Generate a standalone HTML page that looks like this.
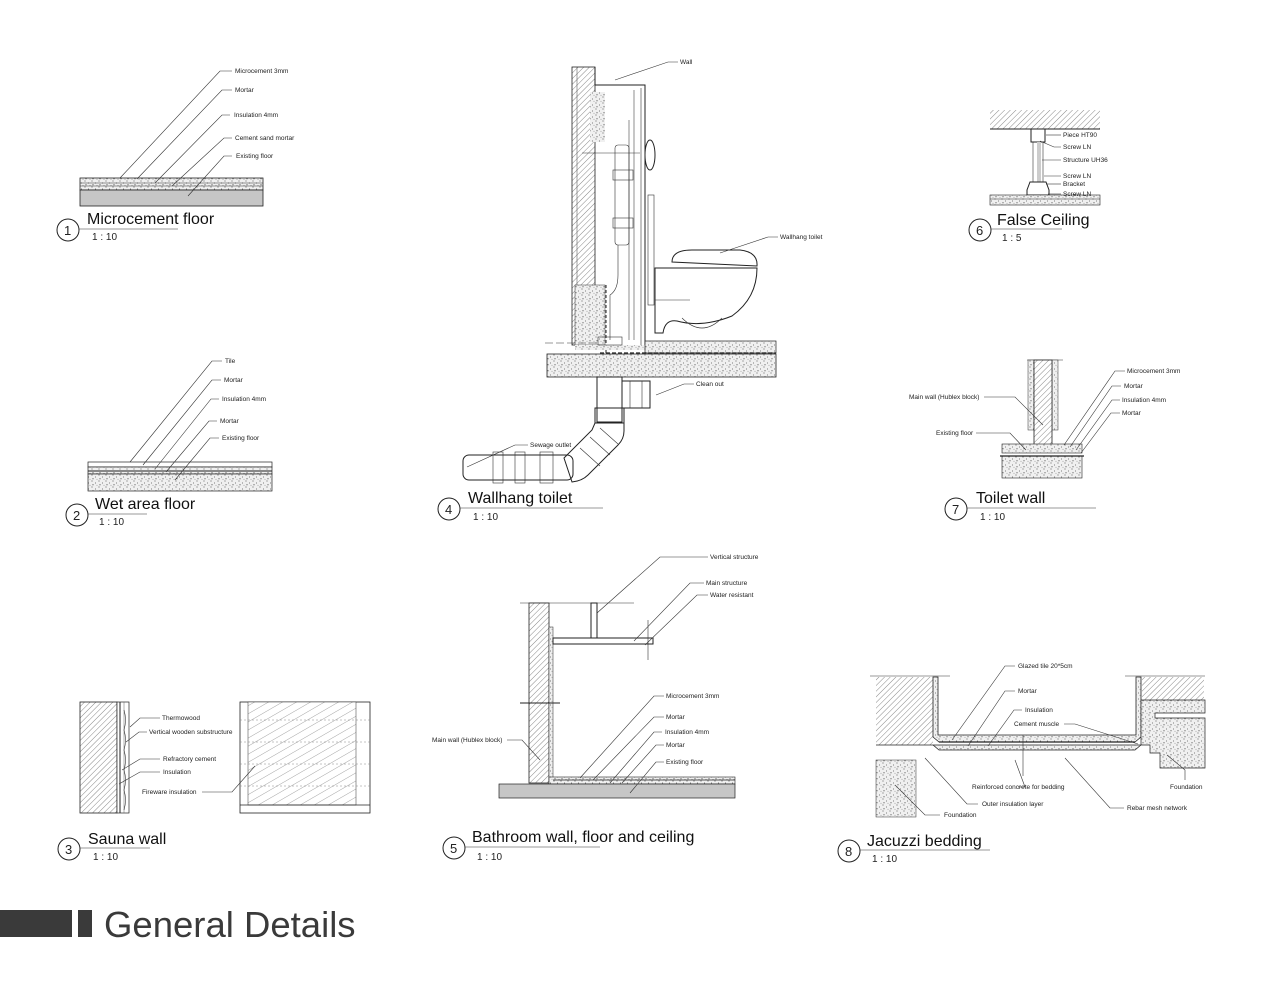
<!DOCTYPE html>
<html><head><meta charset="utf-8"><style>
html,body{margin:0;padding:0;background:#fff;}
svg{display:block;}
text{font-family:"Liberation Sans",sans-serif;fill:#222;}
.s{font-size:6.5px;}
.t{font-size:16px;fill:#111;}
.sc{font-size:10px;}
.l{fill:none;stroke:#333;stroke-width:0.6;}
.k{fill:none;stroke:#222;stroke-width:1;}
</style></head><body>
<svg width="1267" height="1000" viewBox="0 0 1267 1000" xmlns="http://www.w3.org/2000/svg">
<defs>
<pattern id="st" width="7" height="6" patternUnits="userSpaceOnUse">
<rect width="7" height="6" fill="#f0f0f0"/>
<circle cx="1" cy="1" r="0.55" fill="#444"/><circle cx="4.5" cy="3" r="0.5" fill="#555"/><circle cx="2" cy="4.8" r="0.55" fill="#333"/><circle cx="6" cy="5.3" r="0.4" fill="#666"/>
</pattern>
<pattern id="ht" width="4" height="4" patternUnits="userSpaceOnUse" patternTransform="rotate(45)">
<rect width="4" height="4" fill="#fff"/><line x1="0" y1="0" x2="0" y2="4" stroke="#555" stroke-width="0.7"/>
</pattern>
<pattern id="ht2" width="7" height="7" patternUnits="userSpaceOnUse" patternTransform="rotate(60)">
<rect width="7" height="7" fill="#fff"/><line x1="0" y1="0" x2="0" y2="7" stroke="#666" stroke-width="0.6"/>
</pattern>
</defs>

<!-- ===== 1 Microcement floor ===== -->
<rect x="80" y="178" width="183" height="12" fill="url(#st)" stroke="#222" stroke-width="0.8"/>
<line x1="80" y1="183" x2="263" y2="183" stroke="#333" stroke-width="0.5"/>
<line x1="80" y1="186" x2="263" y2="186" stroke="#333" stroke-width="0.5"/>
<rect x="80" y="190" width="183" height="16" fill="#c6c6c6" stroke="#222" stroke-width="0.8"/>
<polyline class="l" points="232,71 220,71 120,178"/><text class="s" x="235" y="73">Microcement 3mm</text>
<polyline class="l" points="232,90 222,90 137,179"/><text class="s" x="235" y="92">Mortar</text>
<polyline class="l" points="230,115 222,115 155,183"/><text class="s" x="234" y="117">Insulation 4mm</text>
<polyline class="l" points="232,138 224,138 172,186"/><text class="s" x="235" y="140">Cement sand mortar</text>
<polyline class="l" points="232,156 224,156 188,196"/><text class="s" x="236" y="158">Existing floor</text>
<circle cx="68" cy="230" r="11" class="k"/><text x="64" y="235" font-size="13">1</text>
<line x1="79" y1="229" x2="178" y2="229" class="l"/>
<text class="t" x="87" y="224">Microcement floor</text><text class="sc" x="92" y="240">1 : 10</text>

<!-- ===== 2 Wet area floor ===== -->
<rect x="88" y="462" width="184" height="5" fill="#fff" stroke="#222" stroke-width="0.7"/>
<rect x="88" y="467" width="184" height="7" fill="url(#st)" stroke="#222" stroke-width="0.7"/>
<line x1="88" y1="471" x2="272" y2="471" stroke="#222" stroke-width="1"/>
<rect x="88" y="474" width="184" height="17" fill="url(#st)" stroke="#222" stroke-width="0.7"/>
<polyline class="l" points="222,361 212,361 130,462"/><text class="s" x="225" y="363">Tile</text>
<polyline class="l" points="221,380 212,380 143,465"/><text class="s" x="224" y="382">Mortar</text>
<polyline class="l" points="219,399 211,399 155,469"/><text class="s" x="222" y="401">Insulation  4mm</text>
<polyline class="l" points="217,421 209,421 166,472"/><text class="s" x="220" y="423">Mortar</text>
<polyline class="l" points="219,438 210,438 175,480"/><text class="s" x="222" y="440">Existing floor</text>
<circle cx="77" cy="515" r="11" class="k"/><text x="73" y="520" font-size="13">2</text>
<line x1="88" y1="514" x2="147" y2="514" class="l"/>
<text class="t" x="95" y="509">Wet area floor</text><text class="sc" x="99" y="525">1 : 10</text>

<!-- ===== 3 Sauna wall ===== -->
<rect x="80" y="702" width="37" height="111" fill="url(#ht)" stroke="#222" stroke-width="0.8"/>
<rect x="117" y="702" width="12" height="111" fill="#fff" stroke="#222" stroke-width="0.7"/>
<line x1="120" y1="702" x2="120" y2="813" stroke="#222"/><line x1="124" y1="702" x2="124" y2="813" stroke="#666" stroke-width="0.5"/>
<path d="M124,710 q3,10 0,20 q3,10 0,20 q3,10 0,20 q3,10 0,20 q3,10 0,20" class="l"/>
<polyline class="l" points="160,718 140,718 130,727"/><text class="s" x="162" y="720">Thermowood</text>
<polyline class="l" points="147,732 139,732 126,742"/><text class="s" x="149" y="734">Vertical wooden substructure</text>
<polyline class="l" points="160,759 140,759 122,770"/><text class="s" x="163" y="761">Refractory cement</text>
<polyline class="l" points="160,772 140,772 119,784"/><text class="s" x="163" y="774">Insulation</text>
<rect x="240" y="702" width="130" height="111" fill="#fff" stroke="#222" stroke-width="0.8"/>
<rect x="248" y="702" width="108" height="103" fill="url(#ht2)" stroke="#333" stroke-width="0.5"/>
<line x1="240" y1="805" x2="370" y2="805" stroke="#222" stroke-width="0.7"/>
<g stroke="#888" stroke-width="0.5" stroke-dasharray="2,2"><line x1="240" y1="720" x2="370" y2="720"/><line x1="240" y1="742" x2="370" y2="742"/><line x1="240" y1="764" x2="370" y2="764"/><line x1="240" y1="786" x2="370" y2="786"/></g>
<polyline class="l" points="202,792 232,792 255,766"/><text class="s" x="142" y="794">Fireware insulation</text>
<circle cx="69" cy="849" r="11" class="k"/><text x="65" y="854" font-size="13">3</text>
<line x1="80" y1="848" x2="150" y2="848" class="l"/>
<text class="t" x="88" y="844">Sauna wall</text><text class="sc" x="93" y="860">1 : 10</text>

<!-- ===== 4 Wallhang toilet ===== -->
<rect x="572" y="67" width="23" height="278" fill="url(#ht)" stroke="#222" stroke-width="0.8"/>
<line x1="577" y1="67" x2="577" y2="345" stroke="#444" stroke-width="0.5"/>
<rect x="590" y="92" width="15" height="50" fill="url(#st)"/>
<rect x="575" y="285" width="30" height="60" fill="url(#st)" stroke="#333" stroke-width="0.5"/>
<polyline points="595,67 595,85 645,85 645,345" class="k" stroke-width="1.4"/>
<line x1="641" y1="88" x2="641" y2="345" stroke="#333" stroke-width="0.6"/>
<line x1="634" y1="90" x2="634" y2="340" stroke="#444" stroke-width="0.6"/>
<line x1="629" y1="120" x2="629" y2="340" stroke="#444" stroke-width="0.6"/>
<rect x="615" y="145" width="14" height="100" rx="3" class="l"/>
<rect x="613" y="170" width="20" height="10" class="l"/><rect x="613" y="218" width="20" height="10" class="l"/>
<path d="M618,245 v30 q0,15 -8,20 v45" class="l"/>
<line x1="582" y1="153" x2="640" y2="153" class="l"/>
<ellipse cx="650" cy="155" rx="5" ry="15" class="k"/>
<rect x="648" y="195" width="6" height="110" class="l"/>
<line x1="606" y1="285" x2="606" y2="355" stroke="#222" stroke-dasharray="3,2"/>
<rect x="575" y="345" width="70" height="5" fill="url(#st)"/>
<rect x="645" y="341" width="131" height="12" fill="url(#st)" stroke="#222" stroke-width="0.7"/>
<line x1="600" y1="353" x2="776" y2="353" stroke="#222" stroke-width="1.2" stroke-dasharray="4,2"/>
<rect x="547" y="354" width="229" height="23" fill="url(#st)" stroke="#222" stroke-width="0.8"/>
<line x1="545" y1="343" x2="600" y2="343" stroke="#333" stroke-width="0.6" stroke-dasharray="8,3"/>
<rect x="598" y="337" width="24" height="8" class="l"/>
<path d="M672,262 q0,-12 20,-12 h48 q18,2 17,16 z" fill="#fff" class="k" stroke-width="0.8"/>
<path d="M660,268 h97 q0,30 -25,48 q-30,12 -55,5 q-12,-2 -14,12 h-8 v-65 z" fill="#fff" class="k" stroke-width="0.8"/>
<path d="M682,318 q20,20 40,0" class="l"/>
<line x1="655" y1="300" x2="690" y2="300" class="l"/>
<polyline class="l" points="778,237 768,237 720,253"/><text class="s" x="780" y="239">Wallhang toilet</text>
<polyline class="l" points="678,62 668,62 615,80"/><text class="s" x="680" y="64">Wall</text>
<!-- pipes -->
<rect x="597" y="377" width="25" height="45" fill="#fff" class="k" stroke-width="0.8"/>
<rect x="622" y="381" width="28" height="27" fill="#fff" class="k" stroke-width="0.8"/>
<line x1="630" y1="381" x2="630" y2="408" class="l"/><line x1="642" y1="381" x2="642" y2="408" class="l"/>
<rect x="595" y="408" width="29" height="15" fill="#fff" class="k" stroke-width="0.8"/>
<path d="M595,423 h29 v8 q0,8 -6,14 l-30,30 q-6,6 -16,7 l-8,-24 l28,-28 z" fill="#fff" class="k" stroke-width="0.8"/>
<line x1="580" y1="448" x2="600" y2="466" class="l"/><line x1="590" y1="437" x2="610" y2="455" class="l"/><line x1="600" y1="428" x2="618" y2="444" class="l"/>
<rect x="463" y="455" width="110" height="25" rx="6" fill="#fff" class="k" stroke-width="0.8"/>
<rect x="493" y="452" width="10" height="31" fill="#fff" class="l"/><rect x="515" y="452" width="10" height="31" fill="#fff" class="l"/><rect x="540" y="452" width="13" height="31" fill="#fff" class="l"/>
<polyline class="l" points="694,384 684,384 656,395"/><text class="s" x="696" y="386">Clean out</text>
<polyline class="l" points="528,445 515,445 467,467"/><text class="s" x="530" y="447">Sewage outlet</text>
<circle cx="449" cy="509" r="11" class="k"/><text x="445" y="514" font-size="13">4</text>
<line x1="460" y1="508" x2="603" y2="508" class="l"/>
<text class="t" x="468" y="503">Wallhang toilet</text><text class="sc" x="473" y="520">1 : 10</text>

<!-- ===== 5 Bathroom wall ===== -->
<line x1="520" y1="603" x2="634" y2="603" class="l"/>
<rect x="529" y="603" width="20" height="180" fill="url(#ht)" stroke="#222" stroke-width="0.8"/>
<rect x="549" y="627" width="4" height="153" fill="url(#st)" stroke="#222" stroke-width="0.5"/>
<rect x="553" y="638" width="100" height="6" fill="#fff" class="k" stroke-width="0.7"/>
<rect x="591" y="603" width="6" height="35" fill="#fff" class="k" stroke-width="0.7"/>
<line x1="648" y1="620" x2="648" y2="660" class="l"/>
<line x1="520" y1="703" x2="560" y2="703" class="k"/>
<rect x="549" y="777" width="186" height="7" fill="url(#st)" stroke="#222" stroke-width="0.6"/>
<line x1="553" y1="780" x2="735" y2="780" stroke="#222" stroke-width="0.8"/>
<rect x="499" y="784" width="236" height="14" fill="#c6c6c6" stroke="#222" stroke-width="0.7"/>
<polyline class="l" points="708,557 660,557 597,613"/><text class="s" x="710" y="559">Vertical structure</text>
<polyline class="l" points="704,583 690,583 634,641"/><text class="s" x="706" y="585">Main structure</text>
<polyline class="l" points="708,595 697,595 645,645"/><text class="s" x="710" y="597">Water resistant</text>
<polyline class="l" points="664,696 654,696 580,778"/><text class="s" x="666" y="698">Microcement 3mm</text>
<polyline class="l" points="664,717 654,717 593,780"/><text class="s" x="666" y="719">Mortar</text>
<polyline class="l" points="662,732 654,732 610,783"/><text class="s" x="665" y="734">Insulation 4mm</text>
<polyline class="l" points="664,745 656,745 622,783"/><text class="s" x="666" y="747">Mortar</text>
<polyline class="l" points="664,762 656,762 630,793"/><text class="s" x="666" y="764">Existing floor</text>
<polyline class="l" points="507,740 522,740 540,760"/><text class="s" x="432" y="742">Main wall (Hublex block)</text>
<circle cx="454" cy="848" r="11" class="k"/><text x="450" y="853" font-size="13">5</text>
<line x1="465" y1="847" x2="600" y2="847" class="l"/>
<text class="t" x="472" y="842">Bathroom wall, floor and ceiling</text><text class="sc" x="477" y="860">1 : 10</text>

<!-- ===== 6 False Ceiling ===== -->
<rect x="990" y="110" width="110" height="19" fill="url(#ht)"/>
<line x1="990" y1="129" x2="1100" y2="129" stroke="#222"/>
<rect x="1031" y="129" width="14" height="13" fill="#fff" class="k" stroke-width="0.7"/>
<line x1="1033" y1="142" x2="1033" y2="182" class="l"/><line x1="1043" y1="142" x2="1043" y2="182" class="l"/>
<rect x="1037" y="142" width="4" height="40" fill="#ccc"/>
<path d="M1030,182 h16 l3,8 v5 h-22 v-5 z" fill="#fff" class="k" stroke-width="0.7"/>
<rect x="990" y="195" width="110" height="10" fill="url(#st)" stroke="#222" stroke-width="0.6"/>
<line x1="990" y1="199" x2="1100" y2="199" stroke="#333" stroke-width="0.5"/>
<line x1="1061" y1="135" x2="1046" y2="135" class="l"/><text class="s" x="1063" y="137">Piece HT90</text>
<polyline class="l" points="1061,147 1054,147 1040,141"/><text class="s" x="1063" y="149">Screw LN</text>
<line x1="1061" y1="160" x2="1042" y2="160" class="l"/><text class="s" x="1063" y="162">Structure UH36</text>
<line x1="1061" y1="176" x2="1044" y2="176" class="l"/><text class="s" x="1063" y="178">Screw LN</text>
<line x1="1061" y1="184" x2="1046" y2="184" class="l"/><text class="s" x="1063" y="186">Bracket</text>
<line x1="1061" y1="194" x2="1048" y2="194" class="l"/><text class="s" x="1063" y="196">Screw LN</text>
<circle cx="980" cy="230" r="11" class="k"/><text x="976" y="235" font-size="13">6</text>
<line x1="991" y1="229" x2="1062" y2="229" class="l"/>
<text class="t" x="997" y="225">False Ceiling</text><text class="sc" x="1002" y="241">1 : 5</text>

<!-- ===== 7 Toilet wall ===== -->
<line x1="1027" y1="360" x2="1063" y2="360" class="l"/>
<rect x="1028" y="360" width="6" height="70" fill="url(#st)" stroke="#333" stroke-width="0.5"/>
<rect x="1052" y="360" width="6" height="70" fill="url(#st)" stroke="#333" stroke-width="0.5"/>
<rect x="1034" y="360" width="18" height="90" fill="url(#ht)" stroke="#222" stroke-width="0.8"/>
<rect x="1002" y="444" width="80" height="9" fill="url(#st)" stroke="#222" stroke-width="0.6"/>
<rect x="1002" y="456" width="80" height="22" fill="url(#st)" stroke="#222" stroke-width="0.6"/>
<line x1="1000" y1="456" x2="1084" y2="456" stroke="#222" stroke-width="1.2"/>
<polyline class="l" points="1125,371 1115,371 1064,445"/><text class="s" x="1127" y="373">Microcement  3mm</text>
<polyline class="l" points="1121,386 1112,386 1070,447"/><text class="s" x="1124" y="388">Mortar</text>
<polyline class="l" points="1120,400 1112,400 1076,450"/><text class="s" x="1122" y="402">Insulation 4mm</text>
<polyline class="l" points="1120,413 1111,413 1081,453"/><text class="s" x="1122" y="415">Mortar</text>
<polyline class="l" points="984,397 1015,397 1043,425"/><text class="s" x="909" y="399">Main wall (Hublex block)</text>
<polyline class="l" points="976,433 1010,433 1026,450"/><text class="s" x="936" y="435">Existing floor</text>
<circle cx="956" cy="509" r="11" class="k"/><text x="952" y="514" font-size="13">7</text>
<line x1="967" y1="508" x2="1096" y2="508" class="l"/>
<text class="t" x="976" y="503">Toilet wall</text><text class="sc" x="980" y="520">1 : 10</text>

<!-- ===== 8 Jacuzzi ===== -->
<line x1="870" y1="676" x2="950" y2="676" class="l"/><line x1="1125" y1="676" x2="1205" y2="676" class="l"/>
<rect x="876" y="677" width="57" height="68" fill="url(#ht)"/>
<rect x="1142" y="677" width="62" height="23" fill="url(#ht)"/>
<path d="M933,677 v60 l6,5 h196 l6,-5 v-60 h-5 v58 h-198 v-58 z" fill="url(#st)" stroke="#222" stroke-width="0.8"/>
<line x1="939" y1="742" x2="1135" y2="742" stroke="#222" stroke-width="1.2"/>
<path d="M876,745 h57 l6,5 h196 l6,-5 v-45 h64 v13 h-50 v5 h50 v50 h-45 v-15 h-10 v-8 h-269 z" fill="url(#st)" stroke="#222" stroke-width="0.7"/>
<rect x="876" y="760" width="40" height="57" fill="url(#st)" stroke="#333" stroke-width="0.5"/>
<polyline class="l" points="1015,666 1005,666 952,740"/><text class="s" x="1018" y="668">Glazed tile 20*5cm</text>
<polyline class="l" points="1015,691 1005,691 968,746"/><text class="s" x="1018" y="693">Mortar</text>
<polyline class="l" points="1022,710 1014,710 988,746"/><text class="s" x="1025" y="712">Insulation</text>
<polyline class="l" points="1064,724 1075,724 1138,744"/><text class="s" x="1014" y="726">Cement muscle</text>
<line x1="1023" y1="735" x2="1023" y2="776" class="l"/>
<polyline class="l" points="1018,787 1025,787 1015,760"/><text class="s" x="972" y="789">Reinforced concrete for bedding</text>
<polyline class="l" points="978,804 967,804 925,758"/><text class="s" x="982" y="806">Outer insulation layer</text>
<polyline class="l" points="940,815 925,815 895,785"/><text class="s" x="944" y="817">Foundation</text>
<polyline class="l" points="1124,808 1110,808 1065,758"/><text class="s" x="1127" y="810">Rebar mesh network</text>
<polyline class="l" points="1185,780 1185,770 1167,755"/><text class="s" x="1170" y="789">Foundation</text>
<circle cx="849" cy="851" r="11" class="k"/><text x="845" y="856" font-size="13">8</text>
<line x1="860" y1="850" x2="990" y2="850" class="l"/>
<text class="t" x="867" y="846">Jacuzzi bedding</text><text class="sc" x="872" y="862">1 : 10</text>

<!-- ===== Footer ===== -->
<rect x="0" y="910" width="72" height="27" fill="#3a3a3a"/>
<rect x="78" y="910" width="14" height="27" fill="#3a3a3a"/>
<text x="104" y="937" font-size="36.5" style="fill:#3a3a3a">General Details</text>
</svg>
</body></html>
